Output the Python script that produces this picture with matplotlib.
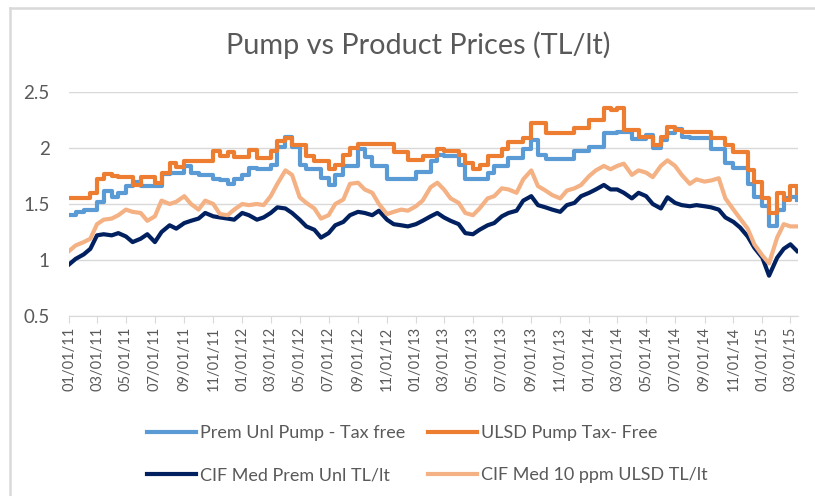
import matplotlib
matplotlib.use("Agg")
import matplotlib.pyplot as plt
import matplotlib.dates as mdates
from matplotlib.lines import Line2D
import pandas as pd

plt.rcParams['font.family'] = ['Lato', 'DejaVu Sans']

# semi-monthly sampling, 01/01/11 .. 15/03/15
dates = pd.date_range('2011-01-01', '2015-03-15', freq='SMS')

prem_pump = [1.40, 1.43, 1.45, 1.45, 1.52, 1.62, 1.56, 1.60, 1.66, 1.70,
             1.66, 1.66, 1.66, 1.77, 1.78, 1.78, 1.84, 1.78, 1.76, 1.76,
             1.72, 1.71, 1.68, 1.72, 1.76, 1.82, 1.81, 1.81, 1.85, 2.01,
             2.10, 2.01, 1.85, 1.81, 1.81, 1.73, 1.67, 1.76, 1.84, 1.84,
             1.99, 1.92, 1.84, 1.84, 1.72, 1.72, 1.72, 1.72, 1.79, 1.79,
             1.88, 1.94, 1.93, 1.93, 1.85, 1.72, 1.72, 1.72, 1.78, 1.84,
             1.84, 1.91, 1.91, 1.99, 2.07, 1.94, 1.90, 1.90, 1.90, 1.90,
             1.97, 1.97, 2.01, 2.01, 2.13, 2.13, 2.14, 2.14, 2.08, 2.08,
             2.12, 2.00, 2.07, 2.13, 2.17, 2.10, 2.09, 2.09, 2.09, 1.99,
             1.99, 1.87, 1.82, 1.82, 1.68, 1.56, 1.48, 1.30, 1.45, 1.55,
             1.56, 1.54]

ulsd_pump = [1.55, 1.55, 1.55, 1.60, 1.72, 1.77, 1.75, 1.74, 1.74, 1.67,
             1.74, 1.74, 1.69, 1.78, 1.87, 1.83, 1.88, 1.88, 1.88, 1.88,
             1.97, 1.93, 1.96, 1.92, 1.92, 1.98, 1.91, 1.91, 1.97, 2.06,
             2.09, 2.03, 2.03, 1.93, 1.88, 1.88, 1.81, 1.85, 1.94, 2.00,
             2.04, 2.04, 2.04, 2.04, 2.04, 1.96, 1.96, 1.89, 1.89, 1.93,
             1.93, 1.99, 1.97, 1.97, 1.94, 1.87, 1.81, 1.85, 1.93, 1.93,
             1.99, 2.05, 2.05, 2.09, 2.22, 2.22, 2.13, 2.13, 2.13, 2.13,
             2.18, 2.18, 2.25, 2.25, 2.36, 2.34, 2.36, 2.16, 2.16, 2.10,
             2.10, 2.03, 2.10, 2.19, 2.16, 2.14, 2.14, 2.14, 2.14, 2.09,
             2.09, 2.03, 1.96, 1.96, 1.80, 1.70, 1.55, 1.42, 1.60, 1.54,
             1.66, 1.60]

cif_prem = [0.96, 1.01, 1.05, 1.10, 1.22, 1.23, 1.22, 1.24, 1.21, 1.16,
            1.19, 1.23, 1.16, 1.25, 1.31, 1.28, 1.33, 1.35, 1.37, 1.42,
            1.39, 1.38, 1.37, 1.36, 1.42, 1.40, 1.36, 1.38, 1.42, 1.47,
            1.46, 1.42, 1.36, 1.30, 1.27, 1.20, 1.24, 1.31, 1.34, 1.40,
            1.43, 1.42, 1.40, 1.44, 1.36, 1.32, 1.31, 1.30, 1.32, 1.35,
            1.39, 1.42, 1.38, 1.35, 1.32, 1.24, 1.23, 1.27, 1.31, 1.33,
            1.39, 1.42, 1.44, 1.53, 1.57, 1.49, 1.47, 1.45, 1.43, 1.49,
            1.51, 1.57, 1.60, 1.63, 1.67, 1.63, 1.63, 1.60, 1.55, 1.60,
            1.57, 1.50, 1.46, 1.56, 1.51, 1.49, 1.48, 1.49, 1.48, 1.47,
            1.45, 1.38, 1.34, 1.29, 1.21, 1.11, 1.02, 0.86, 1.02, 1.10,
            1.14, 1.08]

cif_ulsd = [1.08, 1.13, 1.16, 1.19, 1.32, 1.36, 1.37, 1.40, 1.45, 1.43,
            1.42, 1.35, 1.39, 1.53, 1.50, 1.52, 1.57, 1.50, 1.45, 1.53,
            1.50, 1.41, 1.40, 1.45, 1.50, 1.49, 1.50, 1.49, 1.57, 1.68,
            1.80, 1.76, 1.56, 1.51, 1.46, 1.37, 1.40, 1.50, 1.54, 1.68,
            1.69, 1.63, 1.60, 1.50, 1.41, 1.43, 1.45, 1.44, 1.48, 1.53,
            1.65, 1.69, 1.63, 1.55, 1.51, 1.42, 1.40, 1.46, 1.55, 1.57,
            1.64, 1.63, 1.60, 1.72, 1.80, 1.66, 1.62, 1.58, 1.55, 1.62,
            1.64, 1.67, 1.75, 1.80, 1.84, 1.81, 1.84, 1.86, 1.76, 1.80,
            1.78, 1.74, 1.84, 1.89, 1.84, 1.76, 1.68, 1.72, 1.70, 1.71,
            1.73, 1.55, 1.45, 1.37, 1.28, 1.14, 1.04, 0.97, 1.20, 1.32,
            1.30, 1.30]

labels = ['Prem Unl Pump - Tax free', 'ULSD Pump Tax- Free',
          'CIF Med Prem Unl TL/lt', 'CIF Med 10 ppm ULSD TL/lt']
colors = ['#5B9BD5', '#ED7D31', '#002060', '#F4B183']

W, H = 815, 496
fig = plt.figure(figsize=(W / 100, H / 100), dpi=100)
ax = fig.add_axes([69 / W, 1 - 316 / H, (798 - 69) / W, (316 - 92) / H])

l1, = ax.plot(dates, prem_pump, color=colors[0], lw=3, drawstyle='steps-post')
l2, = ax.plot(dates, ulsd_pump, color=colors[1], lw=3, drawstyle='steps-post')
l3, = ax.plot(dates, cif_prem, color=colors[2], lw=3)
l4, = ax.plot(dates, cif_ulsd, color=colors[3], lw=3)

ax.set_ylim(0.5, 2.5)
ax.set_yticks([0.5, 1, 1.5, 2, 2.5])
ax.set_yticklabels(['0.5', '1', '1.5', '2', '2.5'])
ax.set_xlim(pd.Timestamp('2011-01-01'), pd.Timestamp('2015-03-17'))
ax.xaxis.set_major_locator(mdates.MonthLocator(bymonth=[1, 3, 5, 7, 9, 11]))
ax.xaxis.set_major_formatter(mdates.DateFormatter('%m/%d/%y'))

ax.grid(axis='y', color='#D9D9D9', lw=1)
ax.set_axisbelow(True)
for s in ['left', 'right', 'top']:
    ax.spines[s].set_visible(False)
ax.spines['bottom'].set_color('#D9D9D9')
ax.tick_params(axis='y', length=0, pad=14, labelsize=13.5, labelcolor='#595959')
ax.tick_params(axis='x', length=5, color='#D9D9D9', labelsize=10.5,
               labelcolor='#595959', rotation=90, pad=3)

fig.text(418 / W, 1 - 45 / H, 'Pump vs Product Prices (TL/lt)', ha='center',
         va='center', fontsize=20.8, color='#595959')

fig.legend([l1, l3, l2, l4], [labels[0], labels[2], labels[1], labels[3]],
           ncol=2, loc='upper left', bbox_to_anchor=(131 / W, 1 - 409 / H),
           frameon=False, fontsize=13, labelcolor='#595959',
           handlelength=2.7, handletextpad=0.2, columnspacing=1.3,
           labelspacing=1.45)

# chart frame (top and left edges visible)
fig.add_artist(Line2D([10 / W, 1], [1 - 8 / H, 1 - 8 / H], color='#D9D9D9', lw=1.8))
fig.add_artist(Line2D([10 / W, 10 / W], [0, 1 - 8 / H], color='#D9D9D9', lw=1.8))

fig.savefig('out.png', dpi=100)
